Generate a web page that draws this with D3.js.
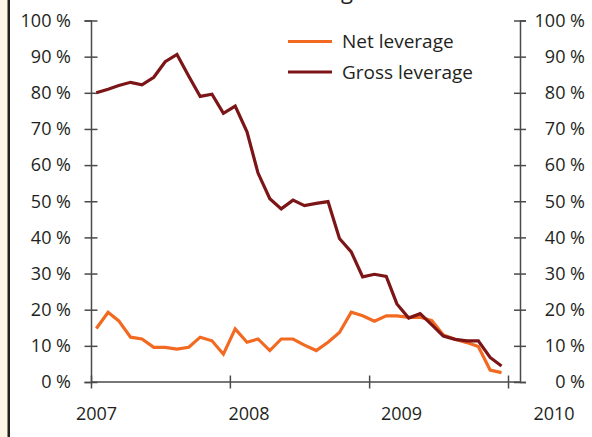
<!DOCTYPE html>
<html>
<head>
<meta charset="utf-8">
<script src="https://cdn.jsdelivr.net/npm/d3@7/dist/d3.min.js"></script>
<style>
  html, body { margin: 0; padding: 0; background: #ffffff; }
  svg { display: block; }
  text { font-family: "Open Sans", "Noto Sans", sans-serif; fill: #231f20; }
</style>
</head>
<body>
<svg id="chart" width="592" height="437"></svg>
<script>
// Monthly observations, January 2007 to December 2009 (percent)
const months = d3.range(36).map(i => new Date(2007, i, 15));
const netLeverage = [
  14.8, 19.3, 16.9, 12.4, 11.9, 9.6, 9.6, 9.1, 9.6, 12.4, 11.4, 7.7,
  14.7, 11.0, 11.9, 8.7, 11.9, 11.9, 10.2, 8.7, 11.0, 13.7, 19.3, 18.3,
  16.8, 18.3, 18.3, 17.9, 17.9, 17.0, 13.0, 11.8, 10.9, 9.8, 3.3, 2.6
];
const grossLeverage = [
  80.0, 81.0, 82.0, 82.9, 82.2, 84.3, 88.6, 90.6, 84.6, 79.0, 79.6, 74.3,
  76.3, 69.2, 57.8, 50.7, 47.9, 50.3, 48.8, 49.4, 49.9, 39.7, 36.0, 29.1,
  29.8, 29.2, 21.6, 17.7, 18.9, 15.8, 12.7, 11.8, 11.4, 11.4, 6.8, 4.4
];
const seriesNames = ["Net leverage", "Gross leverage"];
const seriesColors = ["#f26a21", "#7c1517"];
const yTicks = [0, 10, 20, 30, 40, 50, 60, 70, 80, 90, 100];
const yearTicks = [2007, 2008, 2009, 2010];
const yearLabels = ["2007", "2008", "2009", "2010"];
const titleText = "Leverage";

const svg = d3.select("#chart");
const W = 592, H = 437;

// left margin strip with a rule
svg.append("rect").attr("x", 0).attr("y", 0).attr("width", 8).attr("height", H).attr("fill", "#fdf5e6");
svg.append("line").attr("x1", 8.75).attr("x2", 8.75).attr("y1", 0).attr("y2", H)
  .attr("stroke", "#231f20").attr("stroke-width", 2.5);

// title, mostly above the top edge
svg.append("text").attr("x", 319).attr("y", -1.5)
  .attr("font-size", 22).attr("text-anchor", "middle").text(titleText);

const plotLeft = 91, plotRight = 520, plotTop = 20.5, plotBottom = 382;
const x = d3.scaleTime()
  .domain([new Date(2007, 0, 1), new Date(2010, 0, 1)])
  .range([plotLeft, 508]);
const y = d3.scaleLinear().domain([0, 100]).range([plotBottom, plotTop]);
const labelX = d3.scalePoint().domain(yearLabels).range([96.5, 554]);

const axisColor = "#4a4a4a";
function styleAxis(g) {
  g.selectAll("path").attr("stroke", axisColor).attr("stroke-width", 1.5);
  g.selectAll("line").attr("stroke", axisColor).attr("stroke-width", 1.5);
}

// left value axis
const gl = svg.append("g").attr("transform", `translate(${plotLeft},0)`)
  .call(d3.axisLeft(y).tickValues(yTicks).tickSizeOuter(0).tickSize(6.5).tickFormat(d => d + " %"));
gl.selectAll(".tick line").attr("x1", -6.5).attr("x2", 6.5);
gl.selectAll(".tick text").attr("x", -20).attr("font-size", 18)
  .attr("font-family", "'Open Sans', sans-serif").attr("fill", "#231f20");
styleAxis(gl);

// right value axis
const gr = svg.append("g").attr("transform", `translate(${plotRight},0)`)
  .call(d3.axisRight(y).tickValues(yTicks).tickSizeOuter(0).tickSize(6).tickFormat(d => d + " %"));
gr.selectAll(".tick line").attr("x1", -6).attr("x2", 6);
gr.selectAll(".tick text").attr("x", 65).attr("text-anchor", "end").attr("font-size", 18)
  .attr("font-family", "'Open Sans', sans-serif").attr("fill", "#231f20");
styleAxis(gr);

// time axis
const gx = svg.append("g").attr("transform", `translate(0,${plotBottom})`)
  .call(d3.axisBottom(x).tickValues(yearTicks.map(yr => new Date(yr, 0, 1)))
    .tickSizeOuter(0).tickSize(6.5).tickFormat(""));
gx.select(".domain").remove();
gx.selectAll(".tick line").attr("y1", -6.5).attr("y2", 6.5);
gx.append("line").attr("x1", plotLeft).attr("x2", plotRight).attr("y1", 0).attr("y2", 0);
styleAxis(gx);

svg.append("g").selectAll("text").data(yearLabels).join("text")
  .attr("x", d => labelX(d)).attr("y", 420)
  .attr("text-anchor", "middle").attr("font-size", 18).text(d => d);

// series lines
const line = d3.line().x((d, i) => x(months[i])).y(d => y(d));
[netLeverage, grossLeverage].forEach((vals, k) => {
  svg.append("path").datum(vals)
    .attr("d", line).attr("fill", "none")
    .attr("stroke", seriesColors[k]).attr("stroke-width", 3.2)
    .attr("stroke-linejoin", "miter").attr("stroke-miterlimit", 2);
});

// legend
const legendY = [41.5, 72];
const lg = svg.append("g");
seriesNames.forEach((name, k) => {
  lg.append("line").attr("x1", 288).attr("x2", 332)
    .attr("y1", legendY[k]).attr("y2", legendY[k])
    .attr("stroke", seriesColors[k]).attr("stroke-width", 3.2);
  lg.append("text").attr("x", 342).attr("y", legendY[k] + 6.8)
    .attr("font-size", 19).text(name);
});
</script>
</body>
</html>
